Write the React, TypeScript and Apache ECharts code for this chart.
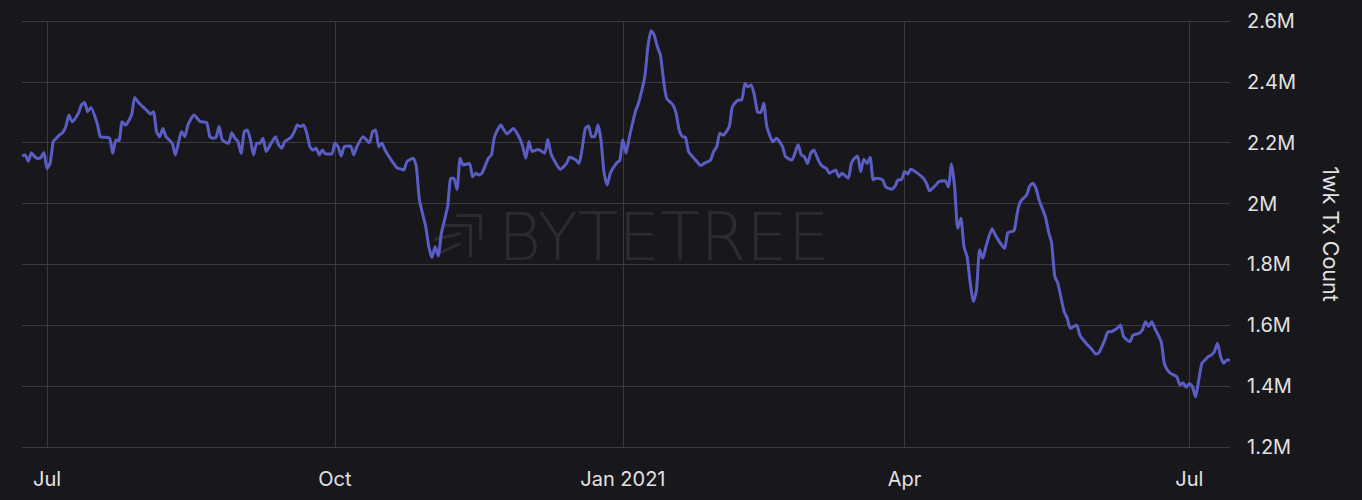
import React, { useEffect, useRef } from "react";
import * as echarts from "echarts";

const dates: string[] = [
  "2020-06-23","2020-06-24","2020-06-25","2020-06-26","2020-06-27","2020-06-28","2020-06-29","2020-06-30",
  "2020-07-01","2020-07-02","2020-07-03","2020-07-04","2020-07-05","2020-07-06","2020-07-07","2020-07-08",
  "2020-07-09","2020-07-11","2020-07-12","2020-07-13","2020-07-14","2020-07-15","2020-07-17","2020-07-18",
  "2020-07-19","2020-07-21","2020-07-22","2020-07-23","2020-07-24","2020-07-25","2020-07-26","2020-07-28",
  "2020-07-29","2020-07-30","2020-07-31","2020-08-02","2020-08-03","2020-08-04","2020-08-05","2020-08-06",
  "2020-08-07","2020-08-08","2020-08-10","2020-08-11","2020-08-13","2020-08-14","2020-08-15","2020-08-17",
  "2020-08-18","2020-08-19","2020-08-21","2020-08-22","2020-08-23","2020-08-24","2020-08-25","2020-08-26",
  "2020-08-28","2020-08-29","2020-08-30","2020-08-31","2020-09-01","2020-09-02","2020-09-03","2020-09-04",
  "2020-09-05","2020-09-06","2020-09-07","2020-09-08","2020-09-09","2020-09-10","2020-09-12","2020-09-13",
  "2020-09-14","2020-09-15","2020-09-17","2020-09-18","2020-09-19","2020-09-20","2020-09-21","2020-09-22",
  "2020-09-23","2020-09-24","2020-09-25","2020-09-26","2020-09-27","2020-09-28","2020-09-30","2020-10-01",
  "2020-10-02","2020-10-03","2020-10-04","2020-10-06","2020-10-07","2020-10-08","2020-10-10","2020-10-12",
  "2020-10-13","2020-10-14","2020-10-15","2020-10-16","2020-10-17","2020-10-19","2020-10-21","2020-10-22",
  "2020-10-23","2020-10-24","2020-10-26","2020-10-27","2020-10-28","2020-10-30","2020-10-31","2020-11-01",
  "2020-11-02","2020-11-03","2020-11-04","2020-11-06","2020-11-07","2020-11-08","2020-11-09","2020-11-10",
  "2020-11-11","2020-11-13","2020-11-14","2020-11-15","2020-11-16","2020-11-17","2020-11-19","2020-11-20",
  "2020-11-21","2020-11-23","2020-11-24","2020-11-25","2020-11-27","2020-11-29","2020-11-30","2020-12-01",
  "2020-12-02","2020-12-03","2020-12-05","2020-12-07","2020-12-08","2020-12-09","2020-12-10","2020-12-12",
  "2020-12-14","2020-12-15","2020-12-17","2020-12-18","2020-12-19","2020-12-20","2020-12-21","2020-12-22",
  "2020-12-23","2020-12-24","2020-12-25","2020-12-26","2020-12-27","2020-12-28","2020-12-30","2020-12-31",
  "2021-01-01","2021-01-02","2021-01-03","2021-01-05","2021-01-06","2021-01-08","2021-01-09","2021-01-10",
  "2021-01-11","2021-01-12","2021-01-13","2021-01-14","2021-01-15","2021-01-17","2021-01-18","2021-01-19",
  "2021-01-20","2021-01-21","2021-01-22","2021-01-24","2021-01-26","2021-01-27","2021-01-29","2021-01-30",
  "2021-01-31","2021-02-01","2021-02-02","2021-02-04","2021-02-05","2021-02-07","2021-02-08","2021-02-09",
  "2021-02-10","2021-02-11","2021-02-12","2021-02-13","2021-02-14","2021-02-15","2021-02-16","2021-02-18",
  "2021-02-19","2021-02-21","2021-02-22","2021-02-24","2021-02-26","2021-02-27","2021-02-28","2021-03-01",
  "2021-03-02","2021-03-03","2021-03-04","2021-03-05","2021-03-06","2021-03-07","2021-03-08","2021-03-10",
  "2021-03-11","2021-03-12","2021-03-14","2021-03-15","2021-03-16","2021-03-17","2021-03-18","2021-03-19",
  "2021-03-20","2021-03-21","2021-03-22","2021-03-23","2021-03-25","2021-03-26","2021-03-28","2021-03-29",
  "2021-03-30","2021-03-31","2021-04-01","2021-04-02","2021-04-03","2021-04-05","2021-04-07","2021-04-08",
  "2021-04-09","2021-04-11","2021-04-12","2021-04-14","2021-04-15","2021-04-16","2021-04-17","2021-04-18",
  "2021-04-19","2021-04-20","2021-04-21","2021-04-22","2021-04-23","2021-04-24","2021-04-25","2021-04-26",
  "2021-04-27","2021-04-29","2021-04-30","2021-05-02","2021-05-03","2021-05-04","2021-05-06","2021-05-07",
  "2021-05-08","2021-05-10","2021-05-11","2021-05-12","2021-05-13","2021-05-14","2021-05-16","2021-05-17",
  "2021-05-18","2021-05-19","2021-05-20","2021-05-22","2021-05-23","2021-05-24","2021-05-26","2021-05-27",
  "2021-05-29","2021-05-31","2021-06-01","2021-06-02","2021-06-04","2021-06-05","2021-06-06","2021-06-08",
  "2021-06-09","2021-06-10","2021-06-12","2021-06-13","2021-06-15","2021-06-16","2021-06-17","2021-06-18",
  "2021-06-19","2021-06-20","2021-06-22","2021-06-23","2021-06-24","2021-06-25","2021-06-27","2021-06-28",
  "2021-06-29","2021-06-30","2021-07-01","2021-07-02","2021-07-03","2021-07-04","2021-07-05","2021-07-06",
  "2021-07-07","2021-07-08","2021-07-09","2021-07-10","2021-07-11","2021-07-12","2021-07-13","2021-07-14"
];

// 1-week transaction count, in millions
const txCountM: number[] = [
  2.157,2.160,2.139,2.167,2.155,2.148,2.151,2.168,
  2.115,2.134,2.204,2.215,2.226,2.233,2.253,2.291,
  2.269,2.297,2.324,2.332,2.302,2.316,2.264,2.220,
  2.218,2.215,2.165,2.209,2.207,2.269,2.258,2.291,
  2.349,2.335,2.324,2.305,2.294,2.302,2.236,2.220,
  2.247,2.220,2.198,2.160,2.236,2.220,2.258,2.291,
  2.280,2.269,2.266,2.220,2.215,2.218,2.253,2.209,
  2.198,2.233,2.215,2.204,2.165,2.236,2.242,2.209,
  2.160,2.198,2.198,2.215,2.171,2.187,2.220,2.193,
  2.182,2.204,2.218,2.236,2.258,2.253,2.258,2.231,
  2.187,2.176,2.182,2.160,2.176,2.163,2.163,2.198,
  2.187,2.156,2.187,2.189,2.160,2.187,2.220,2.200,
  2.236,2.242,2.187,2.198,2.176,2.143,2.116,2.114,
  2.110,2.138,2.149,2.121,2.012,1.924,1.858,1.823,
  1.858,1.828,1.902,1.990,2.083,2.083,2.047,2.149,
  2.127,2.132,2.088,2.100,2.094,2.100,2.149,2.160,
  2.220,2.258,2.242,2.229,2.247,2.215,2.187,2.149,
  2.204,2.171,2.178,2.165,2.211,2.165,2.143,2.113,
  2.132,2.152,2.143,2.132,2.182,2.247,2.255,2.220,
  2.220,2.258,2.209,2.100,2.061,2.100,2.134,2.141,
  2.209,2.165,2.215,2.302,2.330,2.417,2.516,2.568,
  2.554,2.516,2.488,2.406,2.346,2.324,2.297,2.242,
  2.220,2.218,2.171,2.146,2.125,2.132,2.143,2.171,
  2.187,2.231,2.225,2.253,2.318,2.340,2.340,2.395,
  2.384,2.390,2.357,2.302,2.299,2.330,2.253,2.203,
  2.215,2.187,2.154,2.143,2.193,2.160,2.154,2.132,
  2.165,2.176,2.154,2.132,2.121,2.116,2.100,2.110,
  2.088,2.100,2.083,2.132,2.149,2.156,2.105,2.146,
  2.132,2.152,2.078,2.083,2.078,2.055,2.047,2.058,
  2.078,2.078,2.105,2.097,2.113,2.101,2.083,2.067,
  2.042,2.061,2.072,2.075,2.055,2.130,2.055,1.919,
  1.952,1.858,1.825,1.738,1.678,1.716,1.848,1.820,
  1.858,1.917,1.897,1.864,1.853,1.904,1.911,1.968,
  2.006,2.028,2.058,2.067,2.050,2.012,1.957,1.908,
  1.870,1.760,1.738,1.645,1.623,1.590,1.601,1.568,
  1.541,1.519,1.506,1.508,1.552,1.579,1.579,1.590,
  1.601,1.563,1.546,1.568,1.574,1.585,1.612,1.596,
  1.612,1.590,1.546,1.475,1.453,1.442,1.431,1.404,
  1.411,1.396,1.409,1.398,1.365,1.420,1.475,1.486,
  1.497,1.502,1.513,1.541,1.497,1.475,1.486,1.486
];

const tickDates: string[] = ["2020-07-01", "2020-10-01", "2021-01-01", "2021-04-01", "2021-07-01"];
const tickLabels: string[] = ["Jul", "Oct", "Jan 2021", "Apr", "Jul"];

const yMin = 1200000;
const yMax = 2600000;
const yStep = 200000;
const yAxisName = "1wk Tx Count";
const watermark = "BYTETREE";

const ts = (s: string) => {
  const [y, m, d] = s.split("-").map(Number);
  return Date.UTC(y, m - 1, d);
};

export default function App() {
  const ref = useRef<HTMLDivElement>(null);

  useEffect(() => {
    document.body.style.margin = "0";
    document.body.style.background = "#18171c";
    if (!ref.current) return;
    const chart = echarts.init(ref.current, undefined, { renderer: "svg" });

    const seriesData = dates.map((d, i) => [ts(d), Math.round(txCountM[i] * 1e6)]);
    const tickTs = tickDates.map(ts);
    const labelMap: Record<number, string> = {};
    tickTs.forEach((t, i) => (labelMap[t] = tickLabels[i]));

    const font = "Inter, 'Noto Sans', sans-serif";
    const wmColor = "rgba(255,255,255,0.09)";

    chart.setOption({
      animation: false,
      backgroundColor: "#18171c",
      grid: { left: 22, right: 132, top: 21, bottom: 53 },
      xAxis: {
        type: "value",
        min: ts(dates[0]),
        max: ts(dates[dates.length - 1]),
        axisLine: { show: false },
        axisTick: { show: false, customValues: tickTs },
        splitLine: { show: true, lineStyle: { color: "#3b3a40", width: 1 } },
        axisLabel: {
          customValues: tickTs,
          color: "#e2e2e2",
          fontSize: 20,
          fontFamily: font,
          margin: 22,
          formatter: (v: number) => labelMap[v] ?? "",
        },
      },
      yAxis: {
        type: "value",
        position: "right",
        min: yMin,
        max: yMax,
        interval: yStep,
        name: yAxisName,
        nameLocation: "middle",
        nameRotate: -90,
        nameGap: 90,
        nameTextStyle: { color: "#e2e2e2", fontSize: 21.5, fontFamily: font },
        axisLine: { show: false },
        axisTick: { show: false },
        splitLine: { show: true, lineStyle: { color: "#3b3a40", width: 1 } },
        axisLabel: {
          color: "#e2e2e2",
          fontSize: 20,
          fontFamily: font,
          margin: 17,
          formatter: (v: number) => parseFloat((v / 1e6).toFixed(1)) + "M",
        },
      },
      graphic: [
        {
          type: "text",
          left: 498,
          top: 204,
          silent: true,
          z: 0,
          style: {
            text: watermark,
            fill: wmColor,
            font: "200 66px 'DejaVu Sans', Lato, sans-serif",
          },
        },
        {
          type: "group",
          left: 432,
          top: 213,
          silent: true,
          z: 0,
          children: [
            { type: "polyline", shape: { points: [[22, 2], [46, 2], [46, 26]] }, style: { stroke: wmColor, lineWidth: 3, fill: "none" } },
            { type: "polyline", shape: { points: [[10, 12], [36, 12], [36, 44]] }, style: { stroke: wmColor, lineWidth: 3, fill: "none" } },
            { type: "polyline", shape: { points: [[0, 26], [26, 20]] }, style: { stroke: wmColor, lineWidth: 3, fill: "none" } },
            { type: "polyline", shape: { points: [[4, 40], [26, 30]] }, style: { stroke: wmColor, lineWidth: 3, fill: "none" } },
          ],
        },
      ],
      series: [
        {
          type: "line",
          data: seriesData,
          showSymbol: false,
          smooth: 0.2,
          lineStyle: { color: "#5a5ec4", width: 3 },
          itemStyle: { color: "#5a5ec4" },
          z: 3,
        },
      ],
    });

    return () => chart.dispose();
  }, []);

  return <div ref={ref} style={{ width: 1362, height: 500 }} />;
}
